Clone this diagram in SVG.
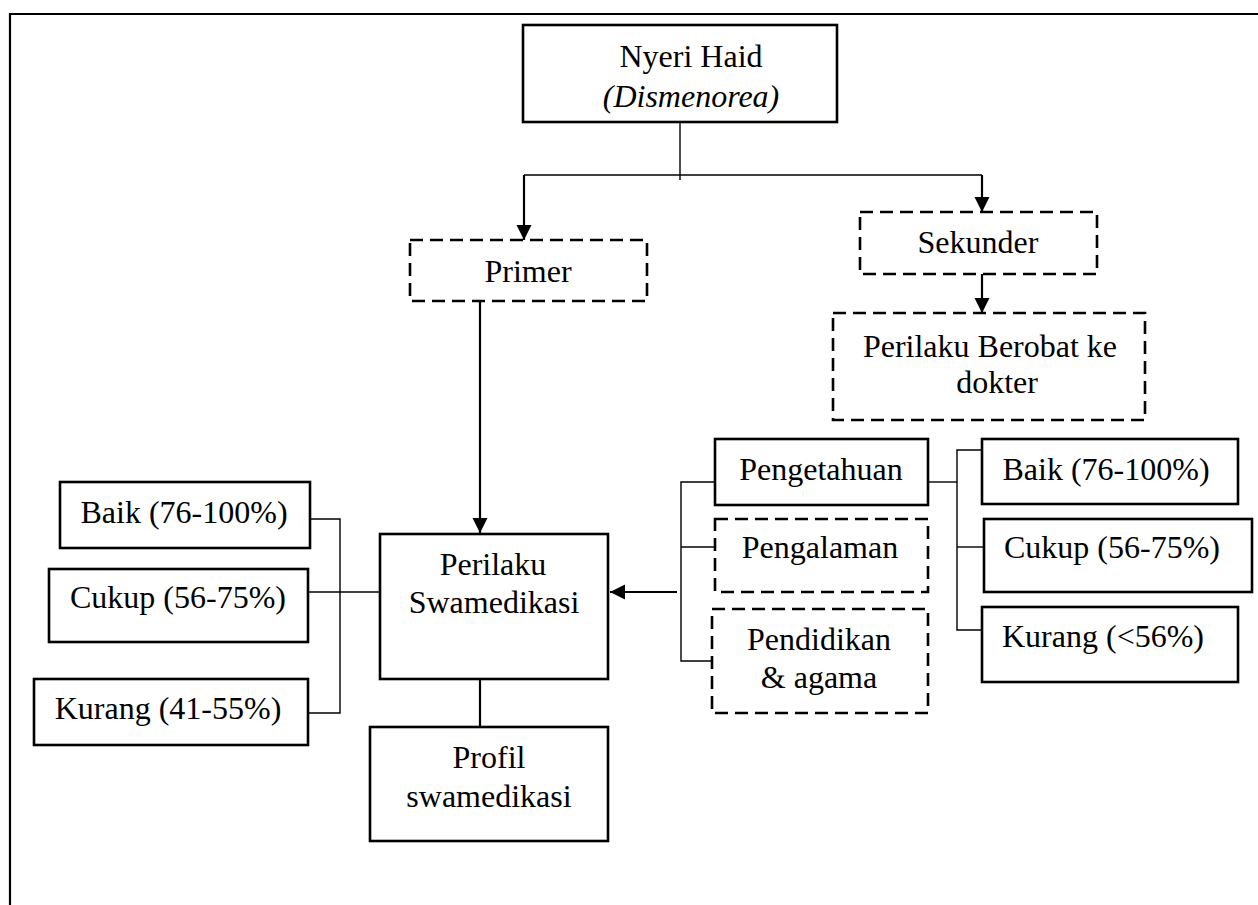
<svg xmlns="http://www.w3.org/2000/svg" width="1258" height="905" viewBox="0 0 1258 905">
<style>
.box{fill:none;stroke:#000;stroke-width:2.6}
.dash{fill:none;stroke:#000;stroke-width:2.6;stroke-dasharray:13 7}
.ln{fill:none;stroke:#000;stroke-width:1.4}
.ar{fill:none;stroke:#000;stroke-width:2.2}
.t{font-family:"Liberation Serif","Times New Roman",serif;font-size:32px;fill:#000;text-anchor:middle}
.i{font-style:italic}
</style>
<defs>
<marker id="ah" viewBox="0 0 10 10" refX="10" refY="5" markerWidth="7" markerHeight="7" markerUnits="strokeWidth" orient="auto">
<path d="M0,0 L10,5 L0,10 z" fill="#000"/>
</marker>
</defs>
<rect width="1258" height="905" fill="#fff"/>
<g id="frame"><path d="M10,905 V14 H1258" fill="none" stroke="#000" stroke-width="2.2"/></g>

<g id="connectors">
<path class="ln" d="M680,122 V180"/>
<path class="ln" d="M524,175 H982"/>
<path class="ar" d="M524,175 V240" marker-end="url(#ah)"/>
<path class="ar" d="M982,175 V212" marker-end="url(#ah)"/>
<path class="ar" d="M982,274 V313" marker-end="url(#ah)"/>
<path class="ar" d="M480,301 V533" marker-end="url(#ah)"/>
<path class="ln" d="M715,482 H681 V661 H712"/>
<path class="ln" d="M681,547 H715"/>
<path class="ar" d="M677,592 H610" marker-end="url(#ah)"/>
<path class="ln" d="M928,482 H957"/>
<path class="ln" d="M982,450 H957 V630 H982"/>
<path class="ln" d="M957,547 H984"/>
<path class="ln" d="M310,519 H340 V713 H308"/>
<path class="ln" d="M308,592 H380"/>
<path class="ar" d="M480,679 V727"/>
</g>

<g id="nyeri"><rect class="box" x="523" y="25" width="314" height="97"/>
<text class="t" x="691" y="67">Nyeri Haid</text>
<text class="t i" x="691" y="107">(Dismenorea)</text></g>

<g id="primer"><rect class="dash" x="410" y="240" width="237" height="61"/>
<text class="t" x="528" y="282">Primer</text></g>

<g id="sekunder"><rect class="dash" x="860" y="212" width="237" height="62"/>
<text class="t" x="978" y="253">Sekunder</text></g>

<g id="berobat"><rect class="dash" x="833" y="313" width="312" height="107"/>
<text class="t" x="990" y="357">Perilaku Berobat ke</text>
<text class="t" x="997" y="393">dokter</text></g>

<g id="pengetahuan"><rect class="box" x="715" y="439" width="213" height="66"/>
<text class="t" x="821" y="480">Pengetahuan</text></g>

<g id="pengalaman"><rect class="dash" x="715" y="519" width="213" height="73"/>
<text class="t" x="820" y="558">Pengalaman</text></g>

<g id="pendidikan"><rect class="dash" x="712" y="609" width="216" height="104"/>
<text class="t" x="819" y="650">Pendidikan</text>
<text class="t" x="819" y="688">&amp; agama</text></g>

<g id="baik-r"><rect class="box" x="982" y="439" width="256" height="65"/>
<text class="t" x="1106" y="480">Baik (76-100%)</text></g>

<g id="cukup-r"><rect class="box" x="984" y="519" width="268" height="73"/>
<text class="t" x="1112" y="558">Cukup (56-75%)</text></g>

<g id="kurang-r"><rect class="box" x="982" y="607" width="256" height="75"/>
<text class="t" x="1103" y="647">Kurang (&lt;56%)</text></g>

<g id="baik-l"><rect class="box" x="60" y="482" width="250" height="66"/>
<text class="t" x="184" y="523">Baik (76-100%)</text></g>

<g id="cukup-l"><rect class="box" x="49" y="569" width="259" height="73"/>
<text class="t" x="178" y="608">Cukup (56-75%)</text></g>

<g id="kurang-l"><rect class="box" x="34" y="679" width="274" height="66"/>
<text class="t" x="168" y="719">Kurang (41-55%)</text></g>

<g id="swamedikasi"><rect class="box" x="380" y="534" width="228" height="145"/>
<text class="t" x="493" y="575">Perilaku</text>
<text class="t" x="494" y="613">Swamedikasi</text></g>

<g id="profil"><rect class="box" x="370" y="727" width="238" height="114"/>
<text class="t" x="489" y="768">Profil</text>
<text class="t" x="489" y="807">swamedikasi</text></g>
</svg>
